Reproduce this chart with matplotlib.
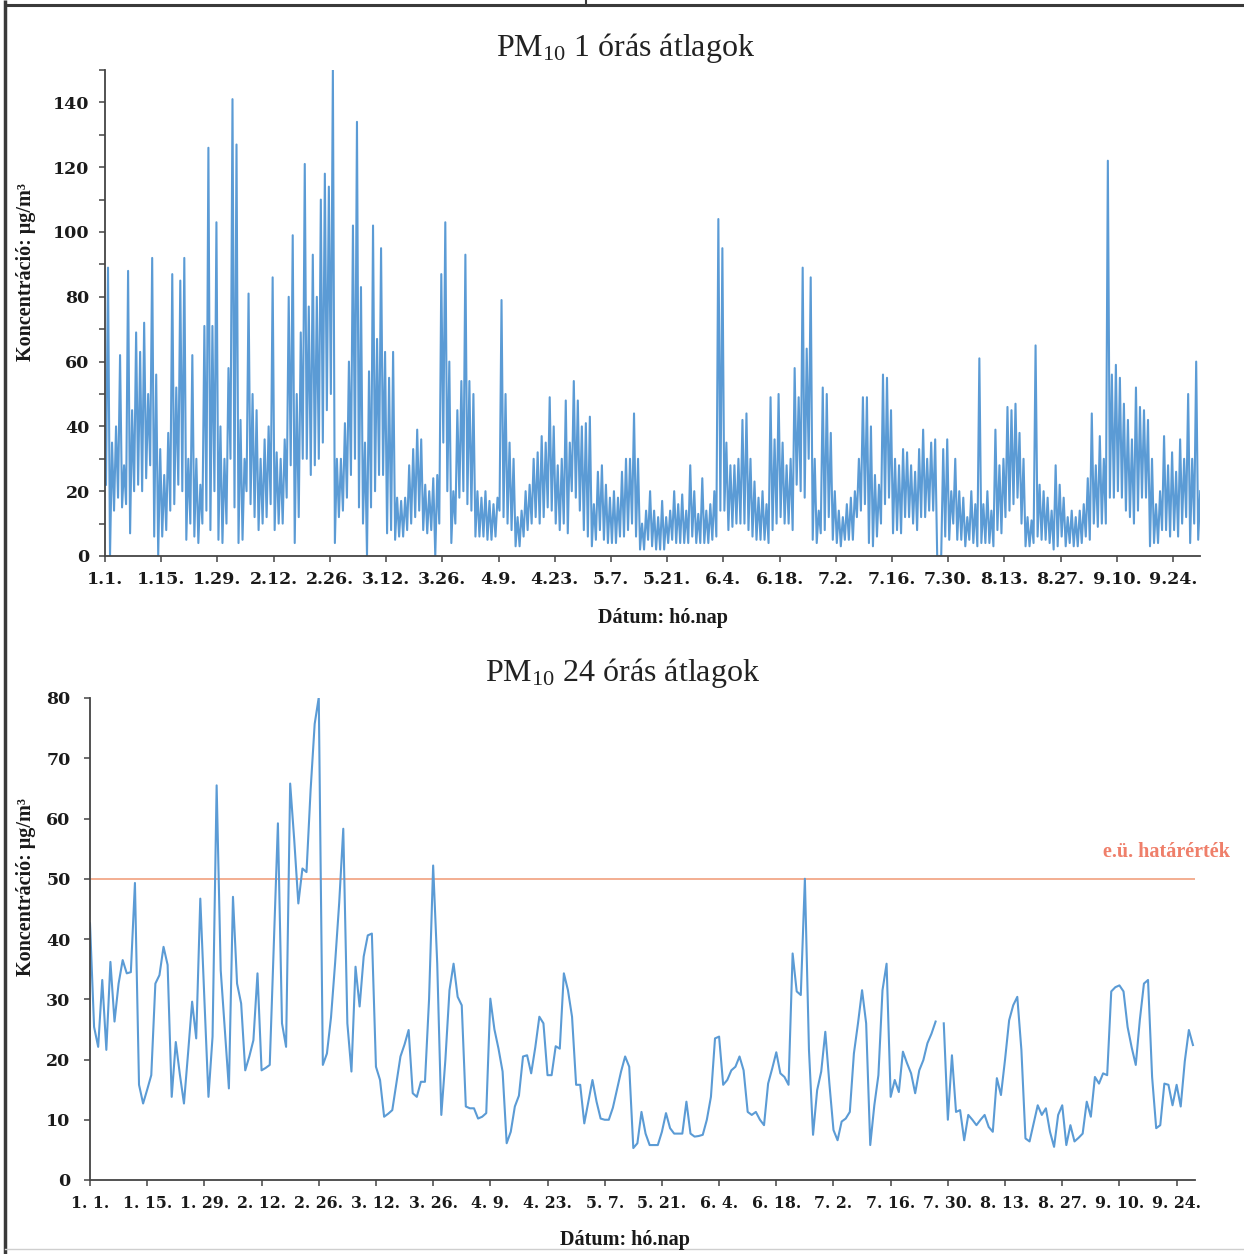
import numpy as np
import matplotlib
matplotlib.use("Agg")
import matplotlib.pyplot as plt
from matplotlib.lines import Line2D

plt.rcParams["mathtext.fontset"] = "custom"
plt.rcParams["mathtext.rm"] = "Liberation Serif"

# ---- tick labels (every 14 days from 1 January) ----
hourly_tick_labels = ["1.1.", "1.15.", "1.29.", "2.12.", "2.26.", "3.12.", "3.26.",
                      "4.9.", "4.23.", "5.7.", "5.21.", "6.4.", "6.18.", "7.2.",
                      "7.16.", "7.30.", "8.13.", "8.27.", "9.10.", "9.24."]
daily_tick_labels = ["1. 1.", "1. 15.", "1. 29.", "2. 12.", "2. 26.", "3. 12.", "3. 26.",
                     "4. 9.", "4. 23.", "5. 7.", "5. 21.", "6. 4.", "6. 18.", "7. 2.",
                     "7. 16.", "7. 30.", "8. 13.", "8. 27.", "9. 10.", "9. 24."]

# ---- 1-hour averages: lowest and highest hourly value of each day (ug/m3) ----
hourly_min = [
    22, 0, 14, 18, 15, 16, 7, 20, 22, 20,
    24, 28, 6, 0, 6, 8, 14, 16, 22, 20,
    5, 10, 6, 4, 10, 14, 8, 20, 5, 4,
    10, 30, 15, 4, 5, 20, 16, 12, 8, 10,
    12, 16, 8, 10, 10, 18, 28, 4, 12, 30,
    30, 25, 28, 30, 35, 45, 50, 4, 12, 14,
    18, 25, 30, 15, 10, 0, 15, 20, 25, 25,
    7, 8, 5, 6, 6, 8, 10, 12, 14, 8,
    7, 8, 0, 10, 35, 20, 4, 10, 18, 20,
    16, 14, 6, 6, 6, 5, 5, 6, 14, 12,
    10, 8, 3, 3, 6, 8, 10, 12, 10, 12,
    15, 14, 10, 8, 10, 7, 20, 18, 14, 8,
    6, 3, 5, 8, 5, 4, 4, 4, 6, 6,
    8, 10, 6, 2, 2, 5, 3, 2, 2, 2,
    4, 5, 4, 4, 4, 4, 6, 4, 4, 4,
    4, 5, 6, 14, 14, 8, 9, 10, 10, 10,
    8, 6, 5, 5, 5, 4, 8, 10, 12, 10,
    10, 8, 22, 20, 18, 30, 5, 4, 7, 8,
    12, 5, 4, 3, 5, 5, 5, 12, 14, 16,
    4, 3, 6, 10, 16, 18, 7, 8, 7, 12,
    12, 10, 8, 12, 12, 14, 14, 0, 0, 6,
    5, 10, 5, 5, 3, 5, 4, 3, 4, 4,
    4, 3, 8, 7, 12, 14, 16, 18, 10, 3,
    3, 4, 6, 5, 5, 4, 2, 3, 6, 3,
    4, 3, 3, 4, 6, 5, 10, 9, 10, 10,
    18, 18, 20, 18, 14, 12, 10, 14, 18, 18,
    3, 4, 4, 8, 8, 6, 8, 6, 10, 12,
    4, 10, 5,
]
hourly_max = [
    89, 35, 40, 62, 28, 88, 45, 69, 63, 72,
    50, 92, 56, 33, 25, 38, 87, 52, 85, 92,
    30, 62, 30, 22, 71, 126, 71, 103, 40, 30,
    58, 141, 127, 42, 30, 81, 50, 45, 30, 36,
    40, 86, 32, 30, 36, 80, 99, 50, 69, 121,
    77, 93, 80, 110, 118, 114, 150, 30, 30, 41,
    60, 102, 134, 83, 35, 57, 102, 67, 95, 63,
    55, 63, 18, 17, 18, 28, 33, 39, 36, 22,
    20, 24, 25, 87, 103, 60, 20, 45, 54, 93,
    54, 50, 20, 18, 20, 17, 16, 18, 79, 50,
    35, 30, 12, 14, 20, 22, 30, 32, 37, 35,
    49, 40, 28, 30, 48, 35, 54, 48, 40, 41,
    43, 16, 26, 28, 22, 18, 20, 18, 26, 30,
    30, 44, 30, 10, 14, 20, 14, 12, 17, 12,
    14, 20, 16, 19, 14, 28, 20, 13, 24, 14,
    16, 20, 104, 95, 35, 28, 28, 30, 42, 44,
    30, 23, 18, 20, 16, 49, 36, 50, 35, 28,
    30, 58, 49, 89, 64, 86, 30, 14, 52, 50,
    38, 20, 14, 12, 16, 18, 20, 30, 49, 49,
    40, 25, 22, 56, 55, 45, 30, 28, 33, 32,
    28, 26, 33, 39, 30, 35, 36, 0, 33, 36,
    20, 30, 20, 18, 12, 20, 16, 61, 16, 20,
    14, 39, 28, 30, 46, 45, 47, 38, 30, 12,
    11, 65, 22, 20, 18, 14, 28, 22, 18, 12,
    14, 12, 14, 16, 24, 44, 28, 37, 30, 122,
    56, 59, 55, 47, 42, 36, 52, 46, 45, 42,
    30, 16, 20, 37, 28, 32, 26, 36, 30, 50,
    30, 60, 20,
]

# ---- 24-hour averages (ug/m3); nan = no valid daily mean ----
daily_mean = [
    42.6, 25.4, 22.1, 33.2, 21.6, 36.2, 26.3, 32.6, 36.5, 34.3,
    34.5, 49.3, 15.8, 12.7, 15.0, 17.4, 32.6, 34.0, 38.7, 35.7,
    13.8, 22.9, 17.5, 12.7, 21.0, 29.6, 23.5, 46.7, 30.0, 13.8,
    23.8, 65.5, 34.8, 25.0, 15.2, 47.0, 32.6, 29.3, 18.2, 20.5,
    23.2, 34.3, 18.2, 18.6, 19.1, 39.0, 59.2, 26.0, 22.1, 65.8,
    56.4, 45.9, 51.7, 51.1, 64.7, 75.7, 80.1, 19.1, 21.0, 27.0,
    36.0, 46.0, 58.3, 26.0, 18.0, 35.4, 28.8, 37.1, 40.6, 40.9,
    18.8, 16.6, 10.5, 11.0, 11.6, 16.0, 20.5, 22.5, 24.9, 14.4,
    13.8, 16.3, 16.3, 30.0, 52.2, 35.9, 10.8, 20.0, 31.5, 35.9,
    30.4, 29.0, 12.2, 11.9, 11.9, 10.2, 10.5, 11.1, 30.1, 25.0,
    21.8, 18.0, 6.1, 8.0, 12.2, 14.0, 20.5, 20.7, 17.7, 22.0,
    27.1, 26.0, 17.4, 17.4, 22.2, 21.8, 34.3, 31.5, 27.1, 15.8,
    15.8, 9.4, 13.0, 16.6, 13.0, 10.2, 10.0, 10.0, 12.0, 15.0,
    18.0, 20.5, 18.8, 5.3, 6.1, 11.3, 7.7, 5.8, 5.8, 5.8,
    8.0, 11.1, 8.6, 7.7, 7.7, 7.7, 13.0, 7.7, 7.2, 7.3,
    7.5, 10.0, 13.8, 23.5, 23.8, 15.8, 16.6, 18.2, 18.8, 20.5,
    18.2, 11.3, 10.8, 11.3, 10.0, 9.1, 16.0, 18.5, 21.2, 17.7,
    17.1, 15.8, 37.6, 31.3, 30.7, 50.0, 21.6, 7.5, 14.9, 18.0,
    24.6, 16.0, 8.3, 6.6, 9.7, 10.2, 11.3, 21.0, 26.0, 31.5,
    26.0, 5.8, 12.4, 17.4, 31.5, 35.9, 13.8, 16.6, 14.6, 21.3,
    19.4, 17.7, 14.4, 18.2, 19.9, 22.7, 24.3, 26.3, np.nan, 26.0,
    10.0, 20.7, 11.3, 11.6, 6.6, 10.8, 10.0, 9.1, 10.0, 10.8,
    8.8, 8.0, 16.9, 14.1, 20.0, 26.5, 29.0, 30.4, 21.6, 6.9,
    6.4, 9.4, 12.4, 10.8, 11.9, 8.0, 5.5, 10.8, 12.4, 5.8,
    9.1, 6.4, 7.0, 7.7, 13.0, 10.5, 17.1, 16.0, 17.7, 17.4,
    31.3, 32.0, 32.3, 31.3, 25.4, 22.0, 19.1, 26.6, 32.6, 33.2,
    17.1, 8.6, 9.1, 16.0, 15.8, 12.4, 15.8, 12.2, 19.7, 24.9,
    22.4,
]
limit_value = 50

BLUE = "#5B9BD5"
AXIS = "#444444"
LIMIT_LINE = "#F2A889"
LIMIT_TEXT = "#EF7F6A"
W, H = 1244, 1254

fig = plt.figure(figsize=(W / 100, H / 100), dpi=100)
fig.patch.set_facecolor("white")

label_font = dict(family="Liberation Serif", weight="bold", size=14.5)


def style_axes(ax, ypad, xsize, ysize):
    for side in ("top", "right"):
        ax.spines[side].set_visible(False)
    for side in ("left", "bottom"):
        ax.spines[side].set_color(AXIS)
        ax.spines[side].set_linewidth(1.3)
    ax.tick_params(direction="out", length=4, width=1.1, color=AXIS,
                   labelcolor="#1a1a1a")
    ax.tick_params(axis="x", pad=7)
    ax.tick_params(axis="y", pad=ypad)
    for labs, size in ((ax.get_xticklabels(), xsize), (ax.get_yticklabels(), ysize)):
        for lab in labs:
            lab.set_fontfamily("DejaVu Serif")
            lab.set_fontweight("bold")
            lab.set_fontsize(size)


# ---------------- 1-hour averages ----------------
ax1 = fig.add_axes([105 / W, 1 - 556 / H, 1095 / W, 486 / H])
days_h = np.arange(len(hourly_min))
x_h = np.column_stack([days_h + 0.25, days_h + 0.75]).ravel()
y_h = np.column_stack([hourly_min, hourly_max]).ravel()
ax1.plot(x_h, y_h, color=BLUE, lw=1.5, solid_joinstyle="round")
ax1.set_xlim(0, 272.7)
ax1.set_ylim(0, 150)
ax1.set_yticks(np.arange(0, 151, 10))
ax1.set_yticklabels([str(v) if v % 20 == 0 else "" for v in range(0, 151, 10)])
ax1.set_xticks(np.arange(0, 14 * len(hourly_tick_labels), 14))
ax1.set_xticklabels(hourly_tick_labels)
style_axes(ax1, ypad=7, xsize=12.5, ysize=12.5)

# ---------------- 24-hour averages ----------------
ax2 = fig.add_axes([90 / W, 1 - 1180 / H, 1105 / W, 482 / H])
days_d = np.arange(len(daily_mean))
ax2.axhline(limit_value, color=LIMIT_LINE, lw=1.3, zorder=1)
ax2.plot(days_d, daily_mean, color=BLUE, lw=1.5, zorder=2)
ax2.set_xlim(0, 270.5)
ax2.set_ylim(0, 80)
ax2.set_yticks(np.arange(0, 81, 10))
ax2.set_xticks(np.arange(0, 14 * len(daily_tick_labels), 14))
ax2.set_xticklabels(daily_tick_labels)
style_axes(ax2, ypad=10, xsize=11.3, ysize=12.5)

# ---------------- texts ----------------
fig.text(626 / W, 1 - 48 / H, r"PM$\mathregular{_{10}}$ 1 órás átlagok",
         ha="center", va="center", family="Liberation Serif", size=23, color="#222222")
fig.text(623 / W, 1 - 673 / H, r"PM$\mathregular{_{10}}$ 24 órás átlagok",
         ha="center", va="center", family="Liberation Serif", size=23, color="#222222")
fig.text(26 / W, 1 - 272 / H, "Koncentráció: μg/m³", rotation=90,
         ha="center", va="center", color="#1a1a1a", **label_font)
fig.text(26 / W, 1 - 887 / H, "Koncentráció: μg/m³", rotation=90,
         ha="center", va="center", color="#1a1a1a", **label_font)
fig.text(663 / W, 1 - 618 / H, "Dátum: hó.nap", ha="center", va="center",
         color="#1a1a1a", **label_font)
fig.text(625 / W, 1 - 1240 / H, "Dátum: hó.nap", ha="center", va="center",
         color="#1a1a1a", **label_font)
fig.text(1166 / W, 1 - 852 / H, "e.ü. határérték", ha="center", va="center",
         family="Liberation Serif", weight="bold", size=14.5, color=LIMIT_TEXT)

# ---------------- page frame ----------------
frame = dict(transform=fig.transFigure, color="#3a3a3a", solid_capstyle="butt")
fig.add_artist(Line2D([5 / W, 5 / W], [0, 1], lw=2.5, **frame))
fig.add_artist(Line2D([5 / W, 1], [1 - 5 / H, 1 - 5 / H], lw=2.2, **frame))
fig.add_artist(Line2D([586 / W, 586 / W], [1, 1 - 5 / H], lw=1.5, **frame))
fig.add_artist(Line2D([5 / W, 1], [1 - 1249 / H, 1 - 1249 / H], lw=1.0,
                      transform=fig.transFigure, color="#cfcfcf"))

fig.savefig("out.png", dpi=100, facecolor="white")
